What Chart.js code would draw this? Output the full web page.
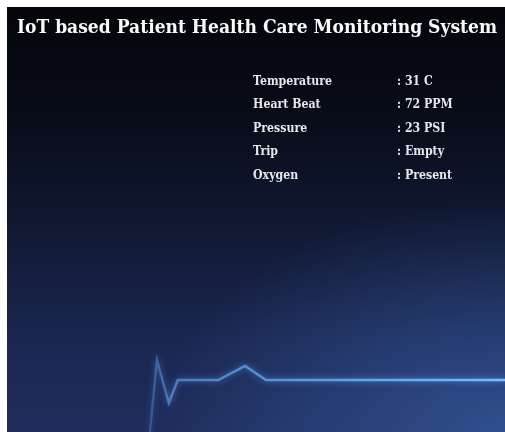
<!DOCTYPE html>
<html>
<head>
<meta charset="utf-8">
<script src="https://cdn.jsdelivr.net/npm/chart.js@4/dist/chart.umd.min.js"></script>
<style>
  html, body { margin: 0; padding: 0; background: #fff; }
  #panel {
    position: absolute; left: 7px; top: 7px; width: 498px; height: 425px; overflow: hidden;
    background:
      radial-gradient(ellipse 70% 55% at 100% 100%, rgba(62,108,185,0.55), rgba(62,108,185,0) 100%),
      linear-gradient(to bottom, #04060b 0%, #080c18 25%, #121a36 55%, #1b2752 80%, #1f2d5c 100%);
  }
  #ecg { position: absolute; left: 0; top: 0; }
  .title {
    position: absolute; left: 10px; margin: 0; line-height: 1; transform-origin: 0 0;
    font-weight: bold; font-family: "DejaVu Serif", serif; color: #fafafa; white-space: nowrap;
  }
  .row { position: absolute; line-height: 1; transform-origin: 0 0; font-weight: bold; font-family: "DejaVu Serif", serif; color: #e6e8ec; white-space: nowrap; }
</style>
</head>
<body>
<div id="panel">
  <canvas id="ecg" width="498" height="425"></canvas>
  <h1 class="title" id="title">IoT based Patient Health Care Monitoring System</h1>
  <div id="readings"></div>
</div>
<script>
/* ---------- Data ---------- */
const readingLabels = ['Temperature', 'Heart Beat', 'Pressure', 'Trip', 'Oxygen'];
const readingValues = [': 31 C', ': 72 PPM', ': 23 PSI', ': Empty', ': Present'];

// ECG trace (time %, amplitude)
const ecgTime = [28.7, 30.1, 32.5, 34.3, 42.4, 47.8, 52.0, 100];
const ecgAmp  = [-2.6, 1.0, -1.15, 0.0, 0.0, 0.7, 0.0, 0.0];

/* ---------- Text: fixed height, squeezed horizontally to the reference width ---------- */
const meas = document.createElement('canvas').getContext('2d');
function squeeze(text, size, target) {
    meas.font = 'bold ' + size + 'px "DejaVu Serif"';
    return target / meas.measureText(text).width;
}

const title = document.getElementById('title');
const tSize = 19;
title.style.fontSize = tSize + 'px';
title.style.top = (24 - tSize * 0.76) + 'px';
title.style.transform = 'scaleX(' + squeeze(title.textContent, tSize, 480) + ')';

const rSize = 12.5;
const rScale = squeeze('Temperature', rSize, 79);
const box = document.getElementById('readings');
readingLabels.forEach((lbl, i) => {
    const base = 77 + i * 23.6;   // baseline inside panel
    const top = (base - rSize * 0.76) + 'px';
    [[lbl, 246], [readingValues[i], 390]].forEach(([txt, left]) => {
        const d = document.createElement('div');
        d.className = 'row'; d.textContent = txt;
        d.style.left = left + 'px'; d.style.top = top; d.style.fontSize = rSize + 'px';
        d.style.transform = 'scaleX(' + rScale + ')';
        box.appendChild(d);
    });
});

/* ---------- Glow plugin ---------- */
const glow = {
    id: 'glow',
    beforeDatasetDraw(chart) {
        chart.ctx.save();
        chart.ctx.shadowColor = 'rgba(90,160,255,0.8)';
        chart.ctx.shadowBlur = 6;
    },
    afterDatasetDraw(chart) { chart.ctx.restore(); }
};

new Chart(document.getElementById('ecg'), {
    type: 'line',
    data: {
        datasets: [{
            data: ecgTime.map((t, i) => ({ x: t, y: ecgAmp[i] })),
            borderWidth: 2.4,
            pointRadius: 0,
            tension: 0,
            borderColor: (c) => {
                const area = c.chart.chartArea;
                if (!area) return '#5fa8f0';
                const g = c.chart.ctx.createLinearGradient(area.left, 0, area.right, 0);
                g.addColorStop(0.28, 'rgba(80,130,200,0.35)');
                g.addColorStop(0.33, 'rgba(95,150,215,0.7)');
                g.addColorStop(0.55, 'rgba(100,160,230,0.85)');
                g.addColorStop(1, 'rgba(120,190,255,1)');
                return g;
            }
        }]
    },
    options: {
        responsive: false,
        devicePixelRatio: 1,
        animation: false,
        layout: { padding: 0 },
        plugins: { legend: { display: false }, tooltip: { enabled: false } },
        scales: {
            x: { type: 'linear', min: 0, max: 100, display: false },
            y: { min: -2.6, max: 18.65, display: false }
        }
    },
    plugins: [glow]
});
</script>
</body>
</html>
